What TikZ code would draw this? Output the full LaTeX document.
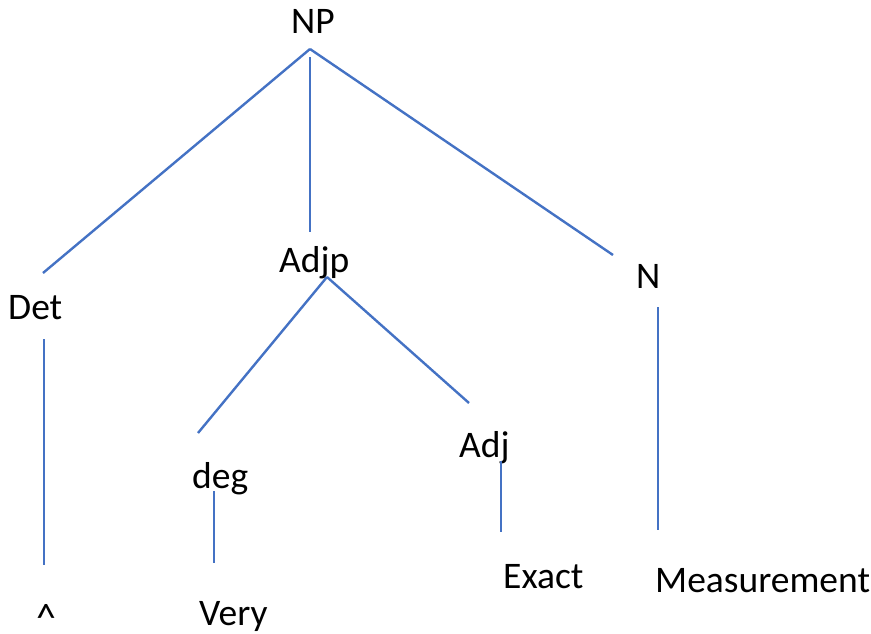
\documentclass[tikz,border=0pt]{standalone}
\usepackage{fontspec}
\setmainfont{Carlito}
\usepackage{tikz}
\usetikzlibrary{positioning}
\definecolor{treeblue}{RGB}{68,114,196}

\begin{document}
\begin{tikzpicture}[x=1pt, y=-1pt,
    cat/.style={anchor=base west, inner sep=0, font=\fontsize{37.5}{45}\selectfont},
    branch/.style={draw=treeblue, line width=2.4}]
     \useasboundingbox (0,0) rectangle (871,633);
     %row 1
     \node[cat] (np) at (291,33) {NP};
     %row 2
     \node[cat] (det) at (8,319) {Det};
     \node[cat] (adjp) at (279,272) {Adjp};
     \node[cat] (n) at (636,288) {N};
     %row 3
     \node[cat] (deg) at (192,488) {deg};
     \node[cat] (adj) at (459,457) {Adj};
     %words
     \node[cat, font=\fontsize{40}{48}\selectfont] (hat) at (36,631) {\^{}};
     \node[cat] (very) at (199,625) {Very};
     \node[cat] (exact) at (503,588) {Exact};
     \node[cat] (meas) at (655,592) {Measurement};
     % branches under NP
     \draw[branch] ([shift={(19,16)}]np.base west) -- ([shift={(35,-46)}]det.base west);
     \draw[branch] ([shift={(19,24)}]np.base west) -- ([shift={(31,-40)}]adjp.base west);
     \draw[branch] ([shift={(19,16)}]np.base west) -- ([shift={(-23,-33)}]n.base west);
     % branches under Adjp
     \draw[branch] ([shift={(48,5)}]adjp.base west) -- ([shift={(6,-55)}]deg.base west);
     \draw[branch] ([shift={(48,5)}]adjp.base west) -- ([shift={(10,-54)}]adj.base west);
     % down to the words
     \draw[branch] ([shift={(36,20)}]det.base west) -- ([shift={(8,-66)}]hat.base west);
     \draw[branch] ([shift={(22,3)}]deg.base west) -- ([shift={(15,-62)}]very.base west);
     \draw[branch] ([shift={(42,4)}]adj.base west) -- ([shift={(-2,-56)}]exact.base west);
     \draw[branch] ([shift={(22,19)}]n.base west) -- ([shift={(3,-62)}]meas.base west);
\end{tikzpicture}
\end{document}
